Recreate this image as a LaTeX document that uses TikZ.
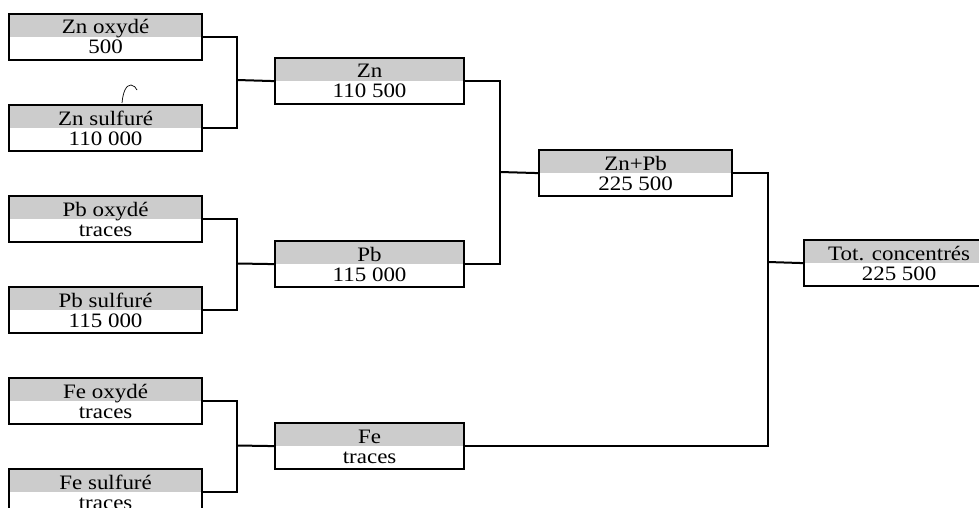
\documentclass[tikz,border=0pt]{standalone}
\usepackage{fontspec}
\setmainfont{Liberation Serif}[FakeStretch=1.12]
\usetikzlibrary{calc}
\definecolor{boxgray}{gray}{0.8}
\tikzset{
  boxst/.style={draw, line width=2.2pt, minimum height=46pt, inner sep=0pt, rectangle,
    path picture={\fill[boxgray] (path picture bounding box.north west) rectangle (path picture bounding box.east);}},
  conn/.style={line width=2pt},
  txt/.style={anchor=base, inner sep=0pt, font=\fontsize{20.5}{20}\selectfont},
}
\newcommand\mkbox[6]{% name, left x, top y, width, line1, line2
  \node[boxst, minimum width=#4pt, anchor=north west] (#1) at (#2,#3) {};
  \node[txt] (#1-a) at ($(#1.north)+(0,21)$) {#5};
  \node[txt] (#1-b) at ($(#1.north)+(0,41)$) {#6};
}
\begin{document}
\begin{tikzpicture}[x=1pt,y=-1pt]
\useasboundingbox (0,0) rectangle (979,508);
\clip (0,0) rectangle (979,508);
\fill[white] (0,0) rectangle (979,508);
% left column
\mkbox{zo}{8}{13}{193}{Zn oxydé}{500}
\mkbox{zs}{8}{104}{193}{Zn sulfuré}{110 000}
\mkbox{po}{8}{195}{193}{Pb oxydé}{traces}
\mkbox{ps}{8}{286}{193}{Pb sulfuré}{115 000}
\mkbox{fo}{8}{377}{193}{Fe oxydé}{traces}
\mkbox{fs}{8}{468}{193}{Fe sulfuré}{traces}
% middle column
\mkbox{zn}{274}{57}{189}{Zn}{110 500}
\mkbox{pb}{274}{240}{189}{Pb}{115 000}
\mkbox{fe}{274}{422}{189}{Fe}{traces}
% third
\mkbox{znpb}{538}{149}{193}{Zn+Pb}{225 500}
% total
\mkbox{tot}{803}{239}{190}{Tot. concentrés}{225 500}
% junctions
\coordinate (j1) at (237,80);
\coordinate (j2) at (237,263.5);
\coordinate (j3) at (237,445.5);
\coordinate (j4) at (500,172);
\coordinate (j5) at (768,262);
\draw[conn] (zo.east) -| (j1) |- (zs.east);
\draw[conn] (j1) -- (zn.west);
\draw[conn] (po.east) -| (j2) |- (ps.east);
\draw[conn] (j2) -- (pb.west);
\draw[conn] (fo.east) -| (j3) |- (fs.east);
\draw[conn] (j3) -- (fe.west);
\draw[conn] (zn.east) -| (j4) |- (pb.east);
\draw[conn] (j4) -- (znpb.west);
\draw[conn] (znpb.east) -| (j5) |- (fe.east);
\draw[conn] (j5) -- (tot.west);
% scan mark above Zn sulfure
\draw[line width=0.7pt] (122,103) .. controls (123,92) and (126,85) .. (131,85) .. controls (134,85) and (136,88) .. (137,90);
\end{tikzpicture}
\end{document}
